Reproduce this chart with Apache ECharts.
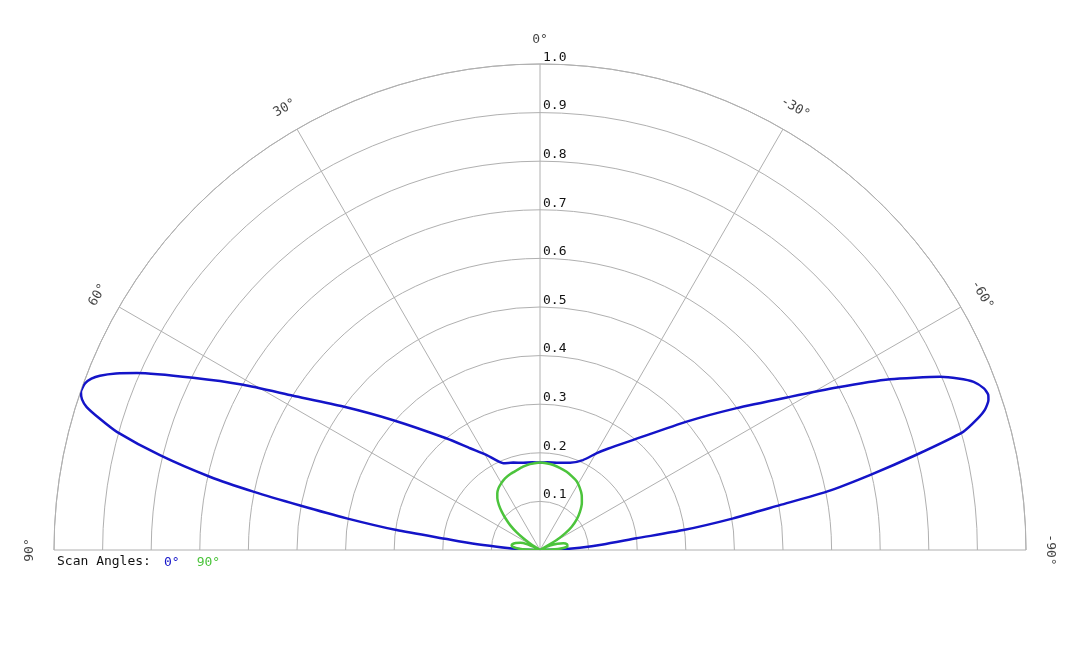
<!DOCTYPE html>
<html>
<head>
<meta charset="utf-8">
<title>Scan pattern</title>
<script src="https://cdn.jsdelivr.net/npm/echarts@6/dist/echarts.min.js"></script>
<style>
  html, body { margin: 0; padding: 0; background: #fff; }
  #chart { width: 1080px; height: 648px; }
</style>
</head>
<body>
<div id="chart"></div>
<script>
// angle ticks (deg, 0 = straight up, positive to the left)
var angleTicks = [-90, -60, -30, 0, 30, 60, 90];
var scanNames = ['0°', '90°'];

// scan angle 0°
var blueAngle = [-90, -88.5, -86.7, -85, -83.1, -82.1, -80.7, -79.4, -78.5, -77.2, -75.8, -74.4, -73.3, -72.5, -71.5, -70.9, -70, -68.8, -67.7, -66.6,
  -64, -61.3, -58.5, -54.2, -48.8, -40.3, -34, -30.4, -25.5, -19, -11, -5, 0, 5, 11, 17, 22.9, 29.3, 34.5, 39.9,
  48.5, 53.9, 58, 60.9, 63.6, 66.3, 67.4, 68.4, 69.1, 69.9, 71, 71.8, 72.5, 73.4, 74.4, 76, 77.5, 78.5, 79.5, 80.7,
  82.1, 83.3, 84.5, 85.6, 88, 90];
var blueR = [0, 0.04, 0.082, 0.13, 0.2, 0.298, 0.403, 0.502, 0.602, 0.696, 0.799, 0.904, 0.94, 0.96, 0.973, 0.976, 0.972, 0.957, 0.93, 0.897,
  0.801, 0.696, 0.603, 0.499, 0.401, 0.297, 0.252, 0.231, 0.205, 0.19, 0.183, 0.181, 0.18, 0.181, 0.183, 0.188, 0.194, 0.224, 0.254, 0.299,
  0.403, 0.501, 0.599, 0.699, 0.797, 0.906, 0.945, 0.974, 0.988, 0.997, 0.999, 0.992, 0.978, 0.945, 0.904, 0.806, 0.696, 0.602, 0.502, 0.403,
  0.298, 0.193, 0.14, 0.089, 0.035, 0];

// scan angle 90°
var greenAngle = [-90, -88, -85, -82, -78, -74, -70, -66, -62, -60.5, -59, -56.5, -53.7, -50, -46.2, -41.5, -37.2, -32.5, -28.3, -23.5,
  -18.8, -13.5, -8.9, -4, 0, 3.5, 6.7, 11.5, 16.3, 21, 26, 30, 34, 37, 39.5, 42.5, 45, 47.5, 50.2, 53,
  55, 57.5, 59.5, 62, 66, 70, 74, 78, 81.3, 84, 86, 88, 90];
var greenR = [0, 0.025, 0.048, 0.057, 0.057, 0.05, 0.038, 0.022, 0.006, 0, 0.04, 0.062, 0.081, 0.099, 0.114, 0.13, 0.142, 0.152, 0.16, 0.165,
  0.17, 0.174, 0.177, 0.179, 0.18, 0.179, 0.178, 0.175, 0.171, 0.168, 0.164, 0.159, 0.153, 0.146, 0.138, 0.125, 0.111, 0.096, 0.08, 0.06,
  0.042, 0.02, 0, 0.008, 0.03, 0.043, 0.052, 0.058, 0.059, 0.054, 0.045, 0.028, 0];

var BLUE = '#1414c8';
var GREEN = '#4cc43c';
var GRID = '#b0b0b0';
var INK = '#111';
var MONO = '"DejaVu Sans Mono", "Liberation Mono", monospace';

function pairs(rs, as) {
  return rs.map(function (r, i) { return [r, as[i]]; });
}

var chart = echarts.init(document.getElementById('chart'));

var option = {
  animation: false,
  backgroundColor: '#fff',
  title: {
    text: 'Scan Angles:',
    left: 52,
    top: 550,
    textStyle: { fontFamily: MONO, fontSize: 13, fontWeight: 'normal', color: INK }
  },
  legend: {
    left: 159,
    top: 556,
    padding: 0,
    icon: 'rect',
    itemWidth: 0,
    itemHeight: 0,
    itemGap: 12,
    selectedMode: false,
    data: [
      { name: scanNames[0], textStyle: { color: BLUE } },
      { name: scanNames[1], textStyle: { color: GREEN } }
    ],
    textStyle: { fontFamily: MONO, fontSize: 13 }
  },
  polar: [
    { center: [540, 550], radius: 486 },
    { center: [540, 550], radius: 486 }
  ],
  angleAxis: [
    {
      polarIndex: 0,
      type: 'value',
      min: -90,
      max: 90,
      interval: 30,
      startAngle: 0,
      endAngle: 180,
      clockwise: false,
      axisLine: { show: true, lineStyle: { color: GRID, width: 1 } },
      axisTick: { show: false },
      axisLabel: { show: false },
      splitLine: { show: true, lineStyle: { color: GRID, width: 1 } }
    },
    {
      polarIndex: 1,
      type: 'value',
      min: 0,
      max: 360,
      startAngle: 90,
      show: false
    }
  ],
  radiusAxis: [
    {
      polarIndex: 0,
      type: 'value',
      min: 0,
      max: 1,
      interval: 0.1,
      axisLine: { show: false },
      axisTick: { show: false },
      axisLabel: { show: false },
      splitLine: { show: true, lineStyle: { color: GRID, width: 1 } }
    },
    {
      polarIndex: 1,
      type: 'value',
      min: 0,
      max: 1,
      interval: 0.1,
      axisLine: { show: false },
      axisTick: { show: false },
      splitLine: { show: false },
      axisLabel: {
        align: 'left',
        verticalAlign: 'bottom',
        margin: -3,
        fontFamily: MONO,
        fontSize: 13,
        color: INK,
        formatter: function (v) { return v === 0 ? '' : v.toFixed(1); }
      }
    }
  ],
  series: [
    {
      name: scanNames[0],
      type: 'line',
      coordinateSystem: 'polar',
      polarIndex: 0,
      showSymbol: false,
      smooth: 0.2,
      lineStyle: { color: BLUE, width: 2.5 },
      itemStyle: { color: BLUE },
      data: pairs(blueR, blueAngle),
      z: 3
    },
    {
      name: scanNames[1],
      type: 'line',
      coordinateSystem: 'polar',
      polarIndex: 0,
      showSymbol: false,
      smooth: 0.2,
      lineStyle: { color: GREEN, width: 2.5 },
      itemStyle: { color: GREEN },
      data: pairs(greenR, greenAngle),
      z: 4
    },
    {
      type: 'scatter',
      coordinateSystem: 'polar',
      polarIndex: 0,
      clip: false,
      silent: true,
      symbol: 'circle',
      symbolSize: 1,
      itemStyle: { color: 'rgba(0,0,0,0)' },
      label: {
        show: true,
        position: 'inside',
        fontFamily: MONO,
        fontSize: 13,
        color: INK,
        formatter: function (p) { return p.value[1] + '°'; }
      },
      data: angleTicks.map(function (a) {
        return { value: [1.05, a], label: { rotate: a } };
      })
    }
  ]
};

chart.setOption(option);
</script>
</body>
</html>
